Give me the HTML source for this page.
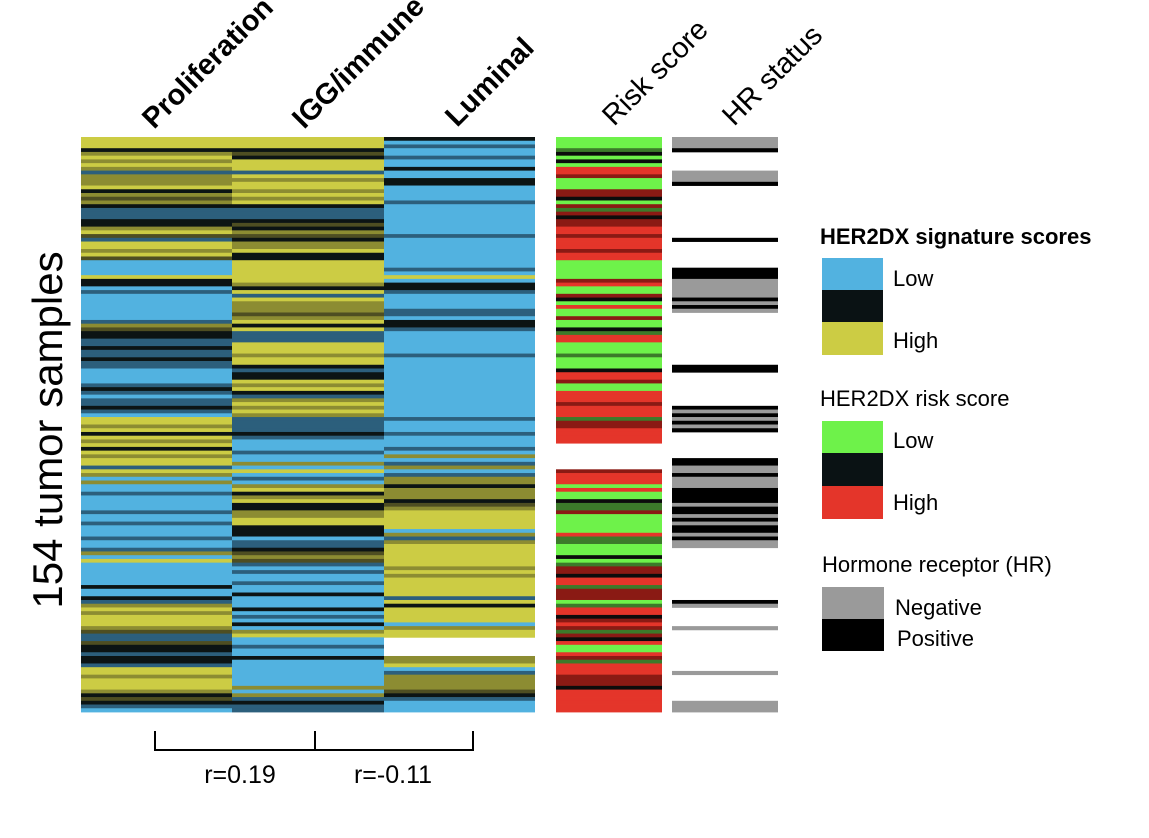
<!DOCTYPE html>
<html><head><meta charset="utf-8"><style>
body{margin:0;background:#fff;}
svg{display:block;font-family:"Liberation Sans",Arial,sans-serif;}
</style></head><body>
<svg id="chart" width="1149" height="838" viewBox="0 0 1149 838">
<g id="rows"></g>
<g font-size="29">
<text transform="translate(154,130) rotate(-45)" font-weight="bold">Proliferation</text>
<text transform="translate(304,130) rotate(-45)" font-weight="bold">IGG/immune</text>
<text transform="translate(457,128) rotate(-45)" font-weight="bold">Luminal</text>
<text transform="translate(614,127) rotate(-45)">Risk score</text>
<text transform="translate(734,127) rotate(-45)">HR status</text>
</g>
<text transform="translate(62,430) rotate(-90)" text-anchor="middle" font-size="42">154 tumor samples</text>
<g stroke="#000" stroke-width="2" fill="none">
<path d="M155,731 V750 H473 V731 M315,731 V750"/>
</g>
<text x="240" y="783" font-size="25" text-anchor="middle">r=0.19</text>
<text x="393" y="783" font-size="25" text-anchor="middle">r=-0.11</text>
<g font-size="22">
<text x="820" y="244" font-weight="bold">HER2DX signature scores</text>
<rect x="822" y="258" width="61" height="33" fill="#52b2e0"/>
<rect x="822" y="290" width="61" height="33" fill="#0a1214"/>
<rect x="822" y="322" width="61" height="33" fill="#cccc44"/>
<text x="893" y="286">Low</text>
<text x="893" y="348">High</text>
<text x="820" y="406">HER2DX risk score</text>
<rect x="822" y="421" width="61" height="33" fill="#6ef24a"/>
<rect x="822" y="453" width="61" height="33" fill="#0a1214"/>
<rect x="822" y="486" width="61" height="33" fill="#e4352a"/>
<text x="893" y="448">Low</text>
<text x="893" y="510">High</text>
<text x="822" y="572">Hormone receptor (HR)</text>
<rect x="822" y="587" width="62" height="32" fill="#9a9a9a"/>
<rect x="822" y="619" width="62" height="32" fill="#000"/>
<text x="895" y="615">Negative</text>
<text x="897" y="646">Positive</text>
</g>
</svg>
<script>
// b=low blue, d=dark blue, k=black(mid), g=dark olive, o=olive, y=high yellow, w=missing
const proliferation = ("yyyk"+"oyoyo"+"d"+"oooy"+"k"+"ogo"+"k"+"ddd"+"kk"+"oyg"+"d"+"yyoyg"+"bbbb"+"y"+"kk"+"bdbbbbbbb"+"dogk"+"k"+"ddkddkdd"+"bbbbd"+"k"+"dbddkdb"+"yyo"+"yk"+"yoykyoyydyo"+"bo"+"bbdbb"+"bbdbbdbbbdbbdobybbbbbb"+"k"+"bb"+"k"+"d"+"oyoyyyo"+"gddg"+"kkdkkd"+"yyoyyyo"+"kgkd"+"b").split('');
const iggImmune = ("yyy"+"kgk"+"yyy"+"d"+"yoyyoyoy"+"k"+"ddd"+"kgkog"+"k"+"ooy"+"kk"+"yyyyy"+"yoky"+"d"+"y"+"ooogo"+"ykyd"+"dd"+"yyyoyy"+"kdkk"+"yoy"+"k"+"d"+"oyoyo"+"ddd"+"dkdb"+"bbdbb"+"obyb"+"dbo"+"ykoy"+"kkooy"+"ykkk"+"bdd"+"kg"+"ogdbdb"+"bdbb"+"k"+"bbb"+"k"+"bdbkbo"+"y"+"bbdbbkbbb"+"bbbbob"+"o"+"dkdd"+"bb").split('');
const luminal = ("kbdbbdbbkbbkkbbbbdbbbbbbbbdbbbbbbbbdbybkkdbbbbddbkkdbbbbbbdbbbbbbbbbbbbbbbbdbb".slice(0,76)+"bbbdbbbdbobdobdookoookgoyyyyybodoyyyyyyoyoyyyyydykyyyyboyywwwwwooybdoooogkdbbb").split('');
// G=low green, g=dark green, k=black, r=dark red, R=high red, w=missing
const riskScore = ("GGGgkGkGRRrGGGrrkGrgrkrrRRrRRRrRRGGGGGrRGGrkGRGGrGGkgRRGGGgGGGkRRrGGRRRrRRRgrr".slice(0,76)+"rrRRRRwwwwwwwrRRRGRGGkggrGGGGGRggGGGkGgrrkRRgrrrGgRRkrRrgrkRGGRrgRRRrrrkRRRRRR").split('');
// n=negative gray, p=positive black, w=none
const hrStatus = ("nnnpwwwwwnnnpwwwwwwwwwwwwwwpwwwwwwwpppnnnnnpnpnwwwwwwwwwwwwwwppwwwwwwwwwpnpnnn".slice(0,76)+"pnp"+"wwwwwww"+"pp"+"nn"+"p"+"nnn"+"pppp"+"n"+"pp"+"npnppnpnn"+"wwwwwwwwwwwwww"+"pn"+"wwwww"+"n"+"wwwwwwwwwww"+"n"+"wwwwwww"+"nnn").split('');

const sigColors = {b:'#52b2e0',d:'#2c5f7c',k:'#0c1414',g:'#4e4e22',o:'#8c8c32',y:'#cccc44',w:'#ffffff'};
const riskColors = {G:'#6ef24a',g:'#3c7a2a',k:'#0c0c0c',r:'#8a1a14',R:'#e4352a',w:'#ffffff'};
const hrColors = {n:'#9a9a9a',p:'#000000',w:'#ffffff'};

const N = 154, yTop = 137, yBottom = 712;
const yScale = i => yTop + i*(yBottom-yTop)/N;
const cols = [
  {name:'proliferation', data:proliferation, x:81, w:151, c:sigColors},
  {name:'igg-immune', data:iggImmune, x:232, w:152, c:sigColors},
  {name:'luminal', data:luminal, x:384, w:151, c:sigColors},
  {name:'risk-score', data:riskScore, x:556, w:106, c:riskColors},
  {name:'hr-status', data:hrStatus, x:672, w:106, c:hrColors}
];
const NS = 'http://www.w3.org/2000/svg';
const rowsG = document.getElementById('rows');
cols.forEach(col => {
  const cg = document.createElementNS(NS,'g');
  
  
  for (let i=0;i<N;i++){
    const v = col.data[i] || 'w';
    if (v==='w') continue;
    const r = document.createElementNS(NS,'rect');
    
    
    r.setAttribute('x', col.x);
    r.setAttribute('y', yScale(i));
    r.setAttribute('width', col.w);
    r.setAttribute('height', (yBottom-yTop)/N + 0.4);
    r.setAttribute('fill', col.c[v] || '#fff');
    cg.appendChild(r);
  }
  rowsG.appendChild(cg);
});
</script>
</body></html>
